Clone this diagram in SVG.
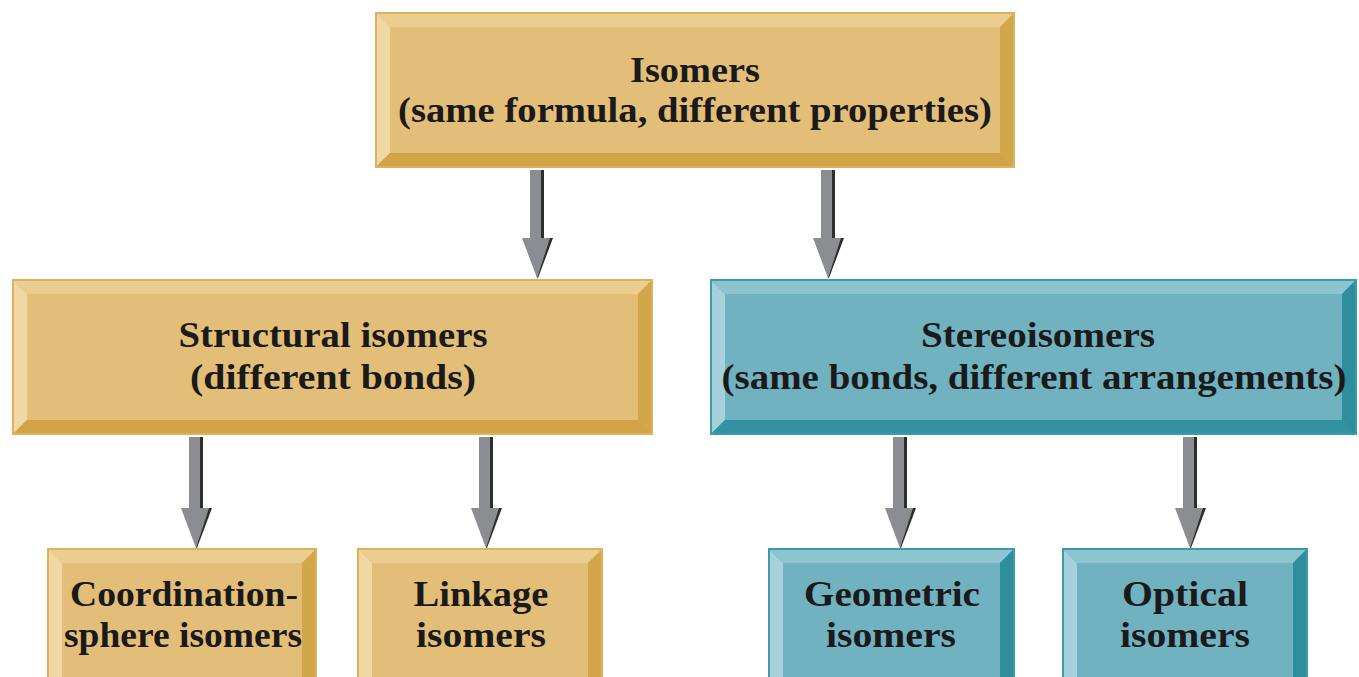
<svg xmlns="http://www.w3.org/2000/svg" width="1359" height="677" viewBox="0 0 1359 677">
<defs>
<style>
.t{font-family:"Liberation Serif","DejaVu Serif",serif;font-weight:bold;font-size:35px;fill:#1a1a1a;text-anchor:middle}
.tanO{fill:#DDB25E}
.tanI{fill:#E3BE78}
.tanL{fill:#F0D8A4}
.tanT{fill:#EBCD8F}
.tanR{fill:#D4A64A}
.tanB{fill:#D1A246}
.tlO{fill:#3A9BAA}
.tlI{fill:#71B2C0}
.tlL{fill:#A6D1DA}
.tlT{fill:#8CC4D0}
.tlR{fill:#2E8E9D}
.tlB{fill:#3392A1}
.shaft{fill:#8B8D92}
.edge{fill:#2e2e2e}
</style>
</defs>

<g id="connectors">
  <g transform="translate(537,170)">
    <rect x="-7" y="0" width="11" height="68" class="shaft"/>
    <rect x="4" y="0" width="3" height="68" class="edge"/>
    <polygon points="-15,68 15,68 0,108" class="shaft"/>
    <polygon points="13,68 16,68 1,108 0,108" class="edge"/>
  </g>
  <g transform="translate(828,170)">
    <rect x="-7" y="0" width="11" height="68" class="shaft"/>
    <rect x="4" y="0" width="3" height="68" class="edge"/>
    <polygon points="-15,68 15,68 0,108" class="shaft"/>
    <polygon points="13,68 16,68 1,108 0,108" class="edge"/>
  </g>
  <g transform="translate(196,437)">
    <rect x="-7" y="0" width="11" height="71" class="shaft"/>
    <rect x="4" y="0" width="3" height="71" class="edge"/>
    <polygon points="-15,71 15,71 0,111" class="shaft"/>
    <polygon points="13,71 16,71 1,111 0,111" class="edge"/>
  </g>
  <g transform="translate(486,437)">
    <rect x="-7" y="0" width="11" height="71" class="shaft"/>
    <rect x="4" y="0" width="3" height="71" class="edge"/>
    <polygon points="-15,71 15,71 0,111" class="shaft"/>
    <polygon points="13,71 16,71 1,111 0,111" class="edge"/>
  </g>
  <g transform="translate(900,437)">
    <rect x="-7" y="0" width="11" height="71" class="shaft"/>
    <rect x="4" y="0" width="3" height="71" class="edge"/>
    <polygon points="-15,71 15,71 0,111" class="shaft"/>
    <polygon points="13,71 16,71 1,111 0,111" class="edge"/>
  </g>
  <g transform="translate(1190,437)">
    <rect x="-7" y="0" width="11" height="71" class="shaft"/>
    <rect x="4" y="0" width="3" height="71" class="edge"/>
    <polygon points="-15,71 15,71 0,111" class="shaft"/>
    <polygon points="13,71 16,71 1,111 0,111" class="edge"/>
  </g>
</g>

<g id="isomers">
  <rect x="375" y="12" width="640" height="156" class="tanO"/>
  <polygon points="377,14 1013,14 1000,27 390,27" class="tanT"/>
  <polygon points="377,14 390,27 390,153 377,166" class="tanL"/>
  <polygon points="1013,14 1013,166 1000,153 1000,27" class="tanR"/>
  <polygon points="377,166 390,153 1000,153 1013,166" class="tanB"/>
  <rect x="390" y="27" width="610" height="126" class="tanI"/>
  <text class="t" x="695" y="82" textLength="130" lengthAdjust="spacingAndGlyphs">Isomers</text>
  <text class="t" x="695" y="122" textLength="594" lengthAdjust="spacingAndGlyphs">(same formula, different properties)</text>
</g>

<g id="structural">
  <rect x="12" y="279" width="641" height="156" class="tanO"/>
  <polygon points="14,281 651,281 638,294 27,294" class="tanT"/>
  <polygon points="14,281 27,294 27,420 14,433" class="tanL"/>
  <polygon points="651,281 651,433 638,420 638,294" class="tanR"/>
  <polygon points="14,433 27,420 638,420 651,433" class="tanB"/>
  <rect x="27" y="294" width="611" height="126" class="tanI"/>
  <text class="t" x="333" y="347" textLength="309" lengthAdjust="spacingAndGlyphs">Structural isomers</text>
  <text class="t" x="333" y="389" textLength="286" lengthAdjust="spacingAndGlyphs">(different bonds)</text>
</g>

<g id="stereoisomers">
  <rect x="710" y="279" width="647" height="156" class="tlO"/>
  <polygon points="712,281 1355,281 1342,294 725,294" class="tlT"/>
  <polygon points="712,281 725,294 725,420 712,433" class="tlL"/>
  <polygon points="1355,281 1355,433 1342,420 1342,294" class="tlR"/>
  <polygon points="712,433 725,420 1342,420 1355,433" class="tlB"/>
  <rect x="725" y="294" width="617" height="126" class="tlI"/>
  <text class="t" x="1038" y="347" textLength="234" lengthAdjust="spacingAndGlyphs">Stereoisomers</text>
  <text class="t" x="1034" y="389" textLength="625" lengthAdjust="spacingAndGlyphs">(same bonds, different arrangements)</text>
</g>

<g id="coordination">
  <rect x="47" y="548" width="270" height="140" class="tanO"/>
  <polygon points="49,550 315,550 302,563 62,563" class="tanT"/>
  <polygon points="49,550 62,563 62,690 49,690" class="tanL"/>
  <polygon points="315,550 315,690 302,690 302,563" class="tanR"/>
  <rect x="62" y="563" width="240" height="127" class="tanI"/>
  <text class="t" x="184" y="606" textLength="228" lengthAdjust="spacingAndGlyphs">Coordination-</text>
  <text class="t" x="183" y="647" textLength="238" lengthAdjust="spacingAndGlyphs">sphere isomers</text>
</g>

<g id="linkage">
  <rect x="357" y="548" width="246" height="140" class="tanO"/>
  <polygon points="359,550 601,550 588,563 372,563" class="tanT"/>
  <polygon points="359,550 372,563 372,690 359,690" class="tanL"/>
  <polygon points="601,550 601,690 588,690 588,563" class="tanR"/>
  <rect x="372" y="563" width="216" height="127" class="tanI"/>
  <text class="t" x="481" y="606" textLength="135" lengthAdjust="spacingAndGlyphs">Linkage</text>
  <text class="t" x="481" y="647" textLength="130" lengthAdjust="spacingAndGlyphs">isomers</text>
</g>

<g id="geometric">
  <rect x="768" y="548" width="247" height="140" class="tlO"/>
  <polygon points="770,550 1013,550 1000,563 783,563" class="tlT"/>
  <polygon points="770,550 783,563 783,690 770,690" class="tlL"/>
  <polygon points="1013,550 1013,690 1000,690 1000,563" class="tlR"/>
  <rect x="783" y="563" width="217" height="127" class="tlI"/>
  <text class="t" x="892" y="606" textLength="176" lengthAdjust="spacingAndGlyphs">Geometric</text>
  <text class="t" x="891" y="647" textLength="130" lengthAdjust="spacingAndGlyphs">isomers</text>
</g>

<g id="optical">
  <rect x="1062" y="548" width="246" height="140" class="tlO"/>
  <polygon points="1064,550 1306,550 1293,563 1077,563" class="tlT"/>
  <polygon points="1064,550 1077,563 1077,690 1064,690" class="tlL"/>
  <polygon points="1306,550 1306,690 1293,690 1293,563" class="tlR"/>
  <rect x="1077" y="563" width="216" height="127" class="tlI"/>
  <text class="t" x="1185" y="606" textLength="126" lengthAdjust="spacingAndGlyphs">Optical</text>
  <text class="t" x="1185" y="647" textLength="130" lengthAdjust="spacingAndGlyphs">isomers</text>
</g>
</svg>
